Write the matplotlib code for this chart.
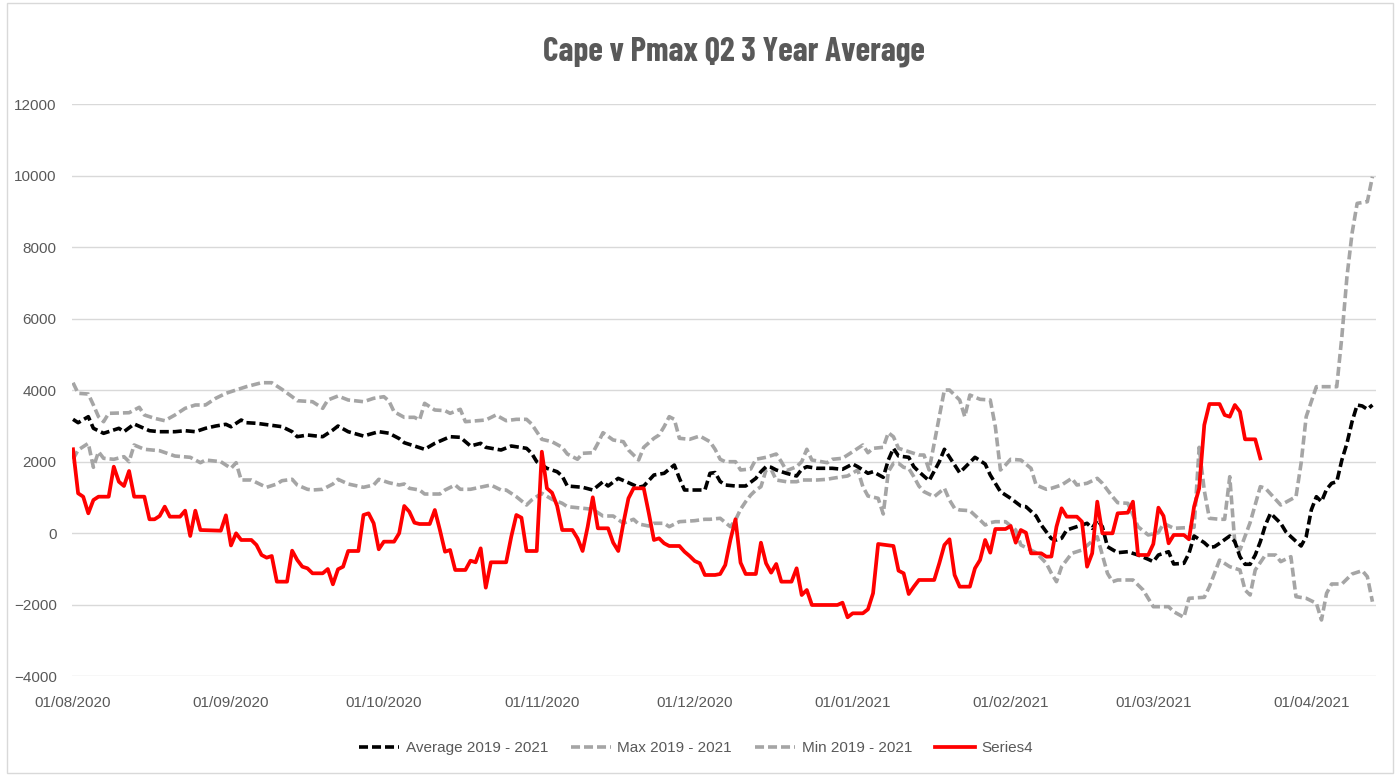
import matplotlib
matplotlib.use("Agg")
import matplotlib.pyplot as plt
import matplotlib.dates as mdates
from matplotlib.patches import Rectangle
import pandas as pd

START = pd.Timestamp("2020-08-01")

# day offsets from 01/08/2020 and values
avg_days = [0, 1, 3, 4, 6, 9, 10, 12, 15, 17, 20, 22, 24, 26, 28, 30, 31, 33, 34, 36,
            40, 41, 43, 44, 46, 49, 51, 52, 54, 57, 60, 62, 64, 65, 69, 71, 74, 76, 78, 80,
            81, 84, 86, 89, 90, 91, 93, 95, 96, 97, 100, 102, 104, 105, 107, 109, 111, 112, 114, 116,
            118, 119, 120, 124, 125, 126, 127, 128, 130, 132, 134, 135, 136, 137, 138, 140, 142, 143, 144, 146,
            149, 151, 153, 154, 156, 157, 159, 160, 161, 162, 164, 165, 166, 168, 170, 171, 173, 174, 177, 179,
            180, 182, 184, 186, 187, 189, 190, 192, 193, 194, 195, 197, 199, 200, 201, 202, 203, 205, 207, 209,
            211, 212, 213, 215, 216, 218, 219, 220, 222, 223, 224, 225, 227, 228, 229, 230, 231, 232, 233, 234,
            235, 237, 238, 239, 241, 242, 243, 244, 245, 246, 247, 248, 249, 250, 251, 252, 253, 254, 255]
avg_vals = [3188, 3094, 3262, 2937, 2797, 2937, 2842, 3057, 2870, 2842, 2842, 2870, 2842, 2937, 3001, 3049, 2980, 3169, 3094, 3077,
            3001, 2982, 2842, 2702, 2749, 2702, 2889, 3001, 2842, 2721, 2842, 2800, 2650, 2534, 2350, 2517, 2702, 2685, 2442, 2517,
            2405, 2330, 2442, 2377, 2238, 2003, 1818, 1723, 1600, 1323, 1287, 1211, 1443, 1323, 1538, 1415, 1287, 1323, 1631, 1678,
            1910, 1538, 1211, 1211, 1678, 1700, 1450, 1351, 1323, 1323, 1538, 1723, 1863, 1846, 1771, 1678, 1603, 1790, 1863, 1818,
            1818, 1790, 1938, 1863, 1678, 1723, 1566, 2050, 2377, 2162, 2126, 1863, 1723, 1471, 2003, 2350, 1910, 1695, 2126, 1938,
            1631, 1164, 979, 763, 745, 484, 232, -150, -187, -140, 92, 185, 280, 140, 372, 185, -375, -542, -515, -607,
            -727, -793, -607, -515, -859, -839, -560, -75, -262, -392, -375, -280, -75, -234, -654, -867, -867, -607, -234, 232,
            559, 280, 45, -95, -355, -95, 652, 1024, 885, 1231, 1399, 1443, 2050, 2517, 3122, 3589, 3561, 3468, 3589]

max_days = [0, 1, 3, 4, 5, 6, 7, 11, 13, 14, 16, 18, 20, 22, 24, 26, 28, 30, 32, 34,
            37, 39, 41, 43, 44, 47, 49, 50, 52, 54, 57, 59, 61, 62, 63, 65, 67, 68, 69, 71,
            73, 74, 76, 77, 81, 83, 85, 87, 89, 90, 92, 94, 96, 97, 99, 100, 102, 103, 104, 106,
            108, 109, 111, 112, 114, 115, 116, 117, 118, 119, 121, 123, 125, 126, 127, 128, 130, 131, 133, 134,
            136, 138, 139, 140, 142, 143, 144, 145, 148, 149, 151, 153, 155, 156, 157, 159, 160, 161, 162, 164,
            166, 167, 168, 169, 170, 171, 172, 174, 175, 176, 178, 180, 181, 182, 183, 184, 186, 188, 189, 191,
            192, 194, 196, 197, 199, 201, 202, 204, 205, 207, 209, 211, 213, 214, 216, 220, 221, 222, 223, 225,
            226, 227, 228, 229, 231, 233, 234, 237, 240, 241, 242, 244, 248, 249, 250, 251, 252, 254, 255]
max_vals = [4212, 3916, 3896, 3589, 3262, 3122, 3356, 3373, 3524, 3309, 3216, 3150, 3309, 3496, 3589, 3589, 3776, 3916, 4008, 4101,
            4212, 4212, 4027, 3821, 3709, 3681, 3496, 3729, 3840, 3729, 3681, 3776, 3821, 3700, 3400, 3244, 3244, 3169, 3636, 3449,
            3430, 3356, 3468, 3122, 3169, 3309, 3150, 3188, 3188, 3057, 2629, 2562, 2405, 2218, 2070, 2238, 2254, 2517, 2814, 2610,
            2562, 2330, 2050, 2405, 2657, 2749, 2982, 3262, 3188, 2657, 2629, 2721, 2562, 2350, 2070, 2003, 2003, 1771, 1800, 2070,
            2126, 2218, 2003, 1751, 1863, 2003, 2350, 2050, 1975, 2070, 2098, 2282, 2470, 2254, 2377, 2405, 2814, 2700, 2377, 2282,
            2190, 2190, 1771, 2517, 3262, 4008, 4008, 3729, 3262, 3868, 3748, 3729, 2982, 1771, 1910, 2070, 2050, 1818, 1351, 1231,
            1259, 1351, 1538, 1351, 1399, 1538, 1399, 1024, 857, 839, 185, -47, 17, 280, 140, 168, 2405, 1200, 420, 392,
            392, 1583, -280, -467, 300, 1304, 1259, 792, 1024, 1958, 3262, 4101, 4101, 5500, 7177, 8390, 9229, 9275, 9974]

min_days = [0, 1, 3, 4, 5, 6, 8, 10, 11, 12, 14, 17, 20, 23, 25, 26, 29, 31, 32, 33,
            35, 37, 38, 40, 41, 43, 44, 46, 47, 49, 51, 52, 54, 57, 59, 60, 62, 64, 65, 66,
            68, 69, 72, 73, 75, 76, 78, 81, 82, 84, 85, 87, 89, 90, 92, 94, 96, 97, 100, 102,
            104, 106, 108, 110, 111, 113, 114, 116, 117, 119, 122, 124, 125, 127, 129, 130, 131, 132, 133, 134,
            135, 136, 137, 138, 140, 142, 143, 146, 148, 149, 152, 154, 155, 156, 158, 159, 160, 161, 162, 163,
            164, 165, 166, 167, 169, 171, 172, 173, 174, 176, 178, 179, 180, 181, 183, 185, 186, 189, 191, 192,
            193, 194, 196, 198, 201, 203, 204, 205, 208, 210, 212, 215, 216, 218, 219, 222, 223, 224, 225, 227,
            229, 230, 231, 232, 234, 236, 237, 239, 240, 242, 244, 245, 246, 247, 249, 251, 253, 254, 255]
min_vals = [2070, 2330, 2517, 1846, 2282, 2098, 2070, 2143, 2003, 2470, 2350, 2310, 2162, 2126, 1975, 2050, 2003, 1818, 1975, 1491,
            1491, 1351, 1287, 1379, 1471, 1510, 1351, 1231, 1211, 1231, 1379, 1510, 1379, 1287, 1351, 1510, 1415, 1351, 1379, 1259,
            1211, 1099, 1099, 1211, 1351, 1231, 1231, 1323, 1351, 1211, 1211, 1024, 792, 931, 1119, 951, 839, 745, 699, 671,
            484, 484, 280, 392, 260, 204, 280, 280, 185, 325, 353, 392, 392, 420, 185, 372, 671, 885, 1071, 1211,
            1304, 1771, 1790, 1491, 1443, 1443, 1491, 1491, 1510, 1538, 1603, 1771, 1304, 1043, 979, 540, 1723, 1958, 1958, 1846,
            1818, 1583, 1323, 1164, 1024, 1259, 931, 699, 652, 633, 372, 232, 297, 325, 325, 92, -327, -542, -839, -1119,
            -1353, -934, -560, -467, -95, -1119, -1353, -1306, -1306, -1586, -2053, -2053, -2193, -2350, -1818, -1790, -1493, -1119, -750, -934,
            -1026, -1586, -1726, -1026, -607, -607, -793, -654, -1772, -1818, -1958, -2425, -1678, -1418, -1418, -1138, -1045, -1213, -1913]

s4_days = [0, 1, 2, 3, 4, 5, 7, 8, 9, 10, 11, 12, 14, 15, 16, 17, 18, 19, 21, 22,
           23, 24, 25, 29, 30, 31, 32, 33, 35, 36, 37, 38, 39, 40, 42, 43, 44, 45, 46, 47,
           49, 50, 51, 52, 53, 54, 56, 57, 58, 59, 60, 61, 63, 64, 65, 66, 67, 68, 70, 71,
           72, 73, 74, 75, 77, 78, 79, 80, 81, 82, 85, 86, 87, 88, 89, 91, 92, 93, 94, 95,
           96, 98, 99, 100, 101, 102, 103, 105, 106, 107, 108, 109, 110, 112, 113, 114, 115, 116, 117, 119,
           120, 121, 122, 123, 124, 126, 127, 128, 129, 130, 131, 132, 134, 135, 136, 137, 138, 139, 141, 142,
           143, 144, 145, 150, 151, 152, 153, 155, 156, 157, 158, 161, 162, 163, 164, 165, 166, 169, 170, 171,
           172, 173, 174, 176, 177, 178, 179, 180, 181, 183, 184, 185, 186, 187, 188, 190, 191, 192, 193, 194,
           195, 197, 198, 199, 200, 201, 202, 204, 205, 207, 208, 209, 211, 212, 213, 214, 215, 216, 218, 219,
           220, 221, 222, 223, 225, 226, 227, 228, 229, 230, 232, 233]
s4_vals = [2350, 1119, 1024, 559, 931, 1024, 1024, 1863, 1443, 1323, 1743, 1024, 1024, 392, 392, 484, 745, 465, 465, 633,
           -75, 633, 92, 73, 503, -340, 0, -187, -187, -327, -607, -682, -635, -1353, -1353, -486, -746, -934, -979, -1119,
           -1119, -999, -1427, -1007, -934, -495, -495, 512, 559, 280, -447, -234, -234, 0, 763, 604, 297, 260, 260, 652,
           92, -515, -467, -1026, -1026, -766, -811, -420, -1521, -811, -811, -95, 512, 436, -495, -495, 2282, 1259, 1135, 768,
           92, 92, -140, -495, 185, 1007, 140, 140, -262, -495, 280, 979, 1259, 1259, 559, -187, -140, -280, -355, -355,
           -515, -635, -775, -839, -1166, -1166, -1138, -887, -187, 392, -822, -1138, -1138, -262, -839, -1101, -859, -1353, -1353, -979,
           -1726, -1586, -2005, -2005, -1941, -2350, -2238, -2238, -2126, -1678, -299, -355, -1045, -1119, -1698, -1493, -1306, -1306, -839, -327,
           -168, -1166, -1493, -1493, -979, -746, -187, -542, 120, 120, 204, -262, 92, 17, -560, -560, -654, -650, 185, 699,
           465, 465, 325, -934, -560, 885, 0, 0, 559, 577, 885, -607, -607, -299, 717, 484, -280, -47, -47, -168,
           745, 1259, 3029, 3616, 3616, 3309, 3262, 3589, 3402, 2629, 2629, 2097]

Y_TICKS = list(range(-4000, 12001, 2000))
TEXT = "#595959"
GRID = "#D9D9D9"


def to_dates(days):
    return START + pd.to_timedelta(days, unit="D")


plt.rcParams["font.family"] = ["Liberation Sans", "DejaVu Sans"]

fig = plt.figure(figsize=(13.97, 7.76), dpi=100)
ax = fig.add_axes([72 / 1397, 1 - 676.3 / 776, (1376 - 72) / 1397, (676.3 - 104.3) / 776])

dash = (0, (2.5, 1.1))
ax.plot(to_dates(avg_days), avg_vals, color="black", lw=2.6, ls=dash, label="Average 2019 - 2021", zorder=3)
ax.plot(to_dates(max_days), max_vals, color="#A5A5A5", lw=2.6, ls=dash, label="Max 2019 - 2021", zorder=2)
ax.plot(to_dates(min_days), min_vals, color="#A5A5A5", lw=2.6, ls=dash, label="Min 2019 - 2021", zorder=2)
ax.plot(to_dates(s4_days), s4_vals, color="#FF0000", lw=2.7, label="Series4", zorder=4)

ax.set_ylim(-4000, 12000)
ax.set_yticks(Y_TICKS)
ax.set_xlim(START - pd.Timedelta(days=0.2), START + pd.Timedelta(days=255.7))
ax.xaxis.set_major_locator(mdates.MonthLocator())
ax.xaxis.set_major_formatter(mdates.DateFormatter("%d/%m/%Y"))
ax.grid(axis="y", color=GRID, lw=1.0)
ax.set_axisbelow(True)
for s in ax.spines.values():
    s.set_visible(False)
ax.tick_params(length=0, labelsize=11, colors=TEXT)
ax.tick_params(axis="y", pad=11)
ax.tick_params(axis="x", pad=14)

fig.text(734 / 1397, 1 - 52 / 776, "Cape v Pmax Q2 3 Year Average", ha="center", va="center",
         fontsize=24, fontweight="bold", color=TEXT,
         family=["Barlow Condensed", "Liberation Sans Narrow", "Liberation Sans", "DejaVu Sans"])

leg = fig.legend(loc="center", bbox_to_anchor=(696 / 1397, 1 - 748 / 776), ncol=4, frameon=False,
                 fontsize=11, labelcolor=TEXT, handlelength=2.6, handletextpad=0.45, columnspacing=1.5)

fig.add_artist(Rectangle((7 / 1397, 3 / 776), 1386 / 1397, 770 / 776, transform=fig.transFigure,
                         fill=False, edgecolor=GRID, lw=1.0))

fig.savefig("out.png", dpi=100)
